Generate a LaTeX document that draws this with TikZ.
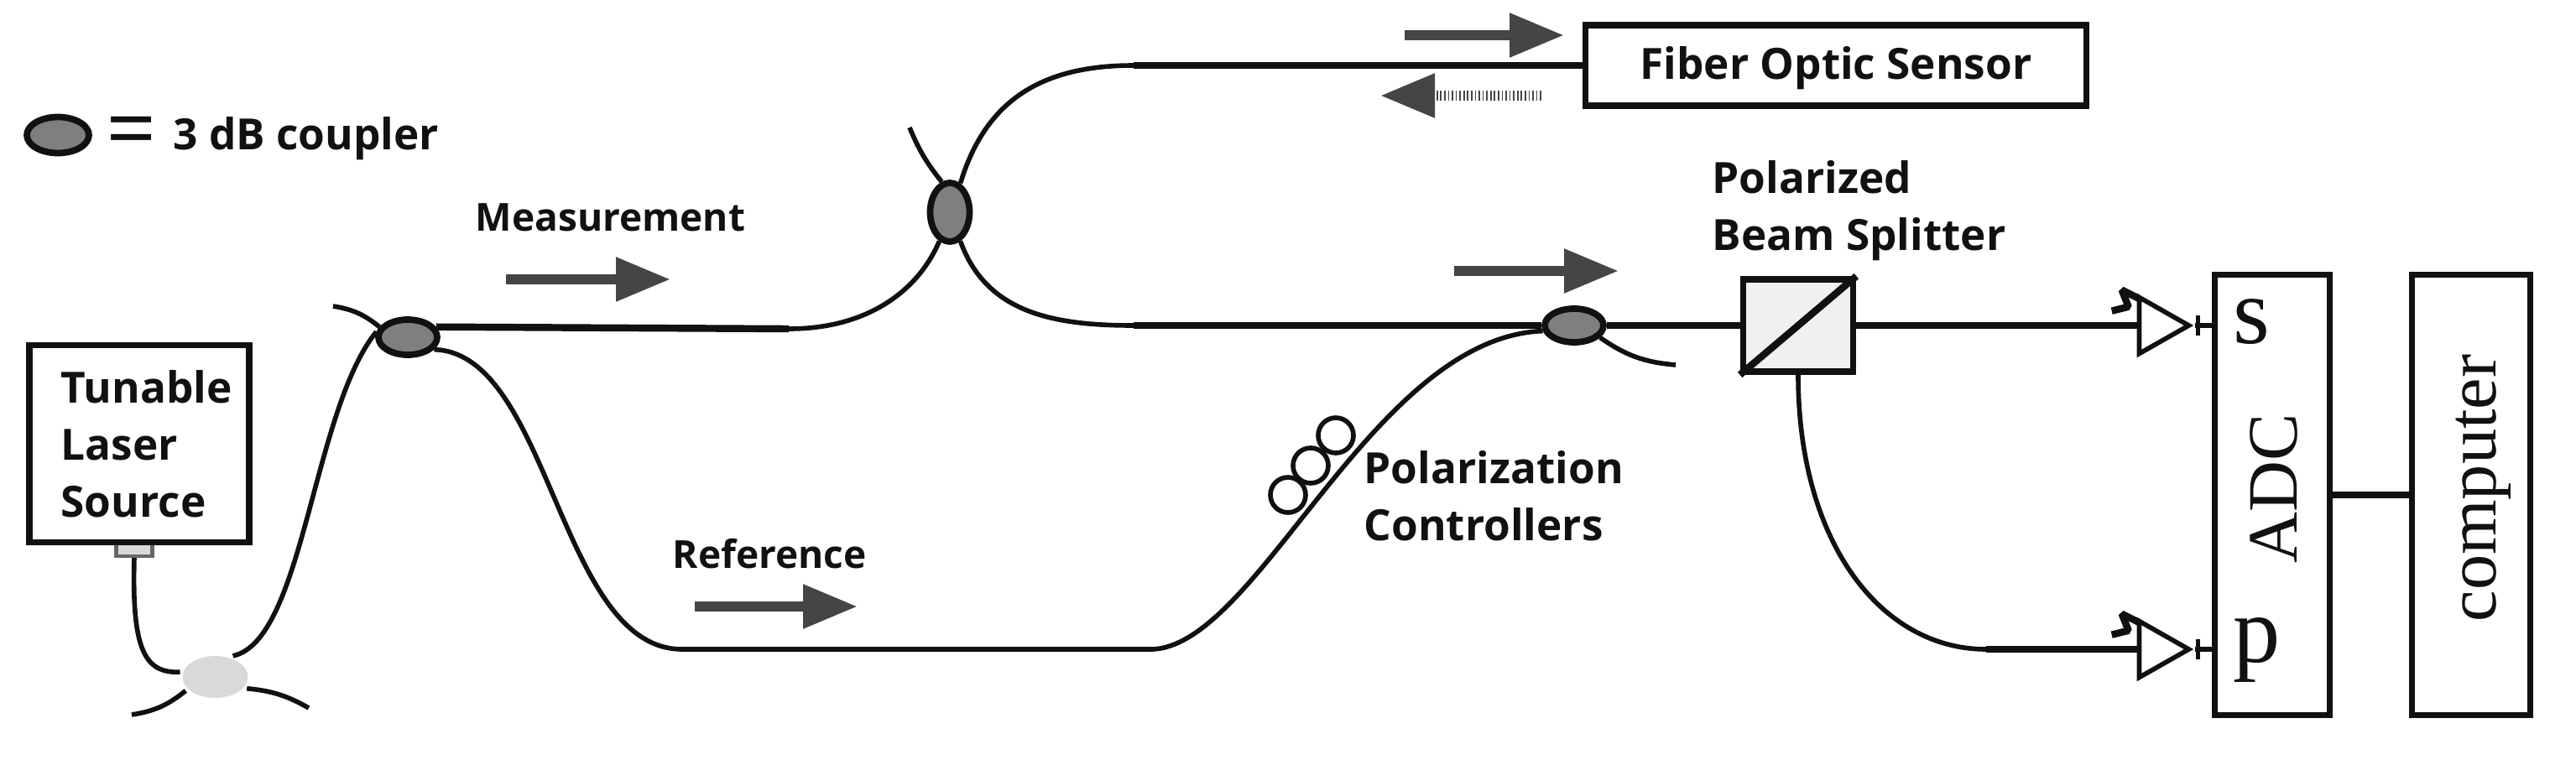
\documentclass[tikz,border=0pt]{standalone}
\usepackage{fontspec}
\setmainfont{Open Sans}
\newfontfamily\seriffont{Liberation Serif}
\usetikzlibrary{arrows.meta,positioning,shapes.geometric}
\definecolor{fibgray}{HTML}{7F7F7F}
\definecolor{fibdark}{HTML}{111111}
\definecolor{flowgray}{HTML}{454545}
\tikzset{
  lbl/.style={font=\fontsize{14.6}{19.4}\selectfont\bfseries,align=left,inner sep=0pt,text=fibdark},
  lblsmall/.style={lbl,font=\fontsize{13.1}{19.4}\selectfont\bfseries},
  box/.style={draw=fibdark,line width=2.2pt,fill=white,inner sep=0pt},
  slab/.style={box,minimum width=1.37cm,minimum height=5.25cm},
  sertxt/.style={font=\seriffont\fontsize{24}{24}\selectfont,inner sep=0pt,text=fibdark},
  chan/.style={font=\seriffont\fontsize{32}{32}\selectfont,inner sep=0pt,text=fibdark},
  coupler/.style={ellipse,draw=fibdark,line width=2.2pt,fill=fibgray,inner sep=0pt,minimum width=.7cm,minimum height=.42cm},
  fiber/.style={draw=fibdark,line width=1.6pt},
  trunk/.style={draw=fibdark,line width=2.4pt},
  flow/.style={-{Triangle[length=6.5mm,width=5mm]},draw=flowgray,line width=3.4pt},
  amp/.style={isosceles triangle,isosceles triangle stretches,draw=fibdark,line width=1.6pt,fill=white,inner sep=0pt,minimum width=.67cm,minimum height=.59cm},
  paddle/.style={circle,draw=fibdark,line width=1.6pt,fill=white,inner sep=0pt,minimum size=.42cm},
}
\begin{document}
\begin{tikzpicture}
  \useasboundingbox (0,0) rectangle (30.7,9.05);
  % boxes
  \node[box,draw=black!60,line width=1.2pt,fill=black!15,minimum width=.43cm,minimum height=.16cm] (port) at (1.6,2.5) {};
  \node[box,minimum width=2.62cm,minimum height=2.35cm] (laser) at (1.66,3.76) {};
  \node[lbl,anchor=west] (lasertxt) at (.72,3.76) {Tunable\\Laser\\Source};
  \node[box,minimum width=5.97cm,minimum height=.96cm] (sensor) at (21.88,8.27) {};
  \node[lbl] (sensortxt) at (21.88,8.24) {Fiber Optic Sensor};
  \node[box,fill=black!6,minimum width=1.31cm,minimum height=1.1cm] (pbs) at (21.43,5.17) {};
  \node[slab] (adc) at (27.08,3.15) {};
  \node[slab,minimum width=1.41cm] (comp) at (29.45,3.15) {};
  % couplers
  \node[coupler,draw=none,fill=black!15,minimum width=.78cm,minimum height=.5cm] (cpl0) at (2.565,.98) {};
  \node[coupler] (cpla) at (4.86,5.03) {};
  \node[coupler,minimum width=.47cm,minimum height=.7cm] (cplb) at (11.32,6.52) {};
  \node[coupler,minimum height=.4cm] (cplc) at (18.76,5.17) {};
  \node[coupler,minimum width=.74cm,minimum height=.43cm] (legend) at (.69,7.44) {};
  % detectors
  \node[amp] (amps) at (25.69,5.17) {};
  \node[amp] (ampp) at (25.69,1.31) {};
  % free fiber ends and bends
  \coordinate (enda) at (3.97,5.40);
  \coordinate (endb) at (10.84,7.53);
  \coordinate (endc) at (19.97,4.70);
  \coordinate (endd) at (1.57,.53);
  \coordinate (ende) at (3.68,.61);
  \coordinate (bendm) at (9.40,5.13);
  \coordinate (bends) at (13.51,8.27);
  \coordinate (bendc) at (13.51,5.17);
  \coordinate (bendp) at (23.67,1.31);
  % fibers
  \draw[fiber] (port.south) .. controls (1.57,1.31) and (1.72,1.02) .. (cpl0.172);
  \draw[fiber] (cpl0.50) .. controls (3.62,1.41) and (3.72,4.15) .. (cpla.170);
  \draw[fiber] (endd) to[bend right=15] (cpl0.205);
  \draw[fiber] (ende) to[bend right=12] (cpl0.-20);
  \draw[fiber] (enda) to[bend left=15] (cpla.160);
  \draw[fiber] (endb) to[bend right=8] (cplb.105);
  \draw[fiber] (endc) to[bend left=15] (cplc.-25);
  \draw[trunk] (cpla.20) -- (bendm);
  \draw[fiber] (bendm) .. controls (10.38,5.13) and (10.96,5.62) .. (cplb.-110);
  \draw[fiber] (cplb.70) .. controls (11.75,7.87) and (12.43,8.27) .. (bends);
  \draw[trunk] (bends) -- (sensor.west);
  \draw[fiber] (cplb.-70) .. controls (11.75,5.33) and (12.53,5.17) .. (bendc);
  \draw[trunk] (bendc) -- (cplc.west);
  \draw[fiber] (cpla.-25) .. controls (6.56,4.84) and (6.66,1.31) .. (8.13,1.31) -- (13.71,1.31)
    .. controls (14.98,1.31) and (16.35,5.03) .. (cplc.190);
  \draw[trunk] (cplc.east) -- (pbs.west);
  \draw[trunk] (pbs.east) -- (amps.west);
  \draw[fiber] (pbs.south) .. controls (21.43,2.58) and (22.42,1.31) .. (bendp);
  \draw[trunk] (bendp) -- (ampp.west);
  \draw[trunk] (pbs.south west) -- (pbs.north east);
  \draw[trunk] (adc.east |- comp.center) -- (comp.west);
  % detector outputs and light marks
  \foreach \det in {amps,ampp}{
    \draw[fiber] (\det.east) -- (\det.east -| adc.west);
    \draw[fiber] ([xshift=-.16cm,yshift=.12cm]\det.east -| adc.west) -- ([xshift=-.16cm,yshift=-.12cm]\det.east -| adc.west);
    \draw[trunk,line join=bevel] ([shift={(.02,.1)}]\det.north west) -- ++(-.2,.1) -- ++(.08,-.2) -- ++(-.2,-.05);
  }
  % paddles
  \node[paddle] (pada) at (15.92,3.86) {};
  \node[paddle] (padb) at (15.62,3.50) {};
  \node[paddle] (padc) at (15.35,3.15) {};
  % direction arrows
  \coordinate (senseout) at (16.74,8.63);
  \coordinate (senseback) at (18.37,7.91);
  \coordinate (combine) at (17.33,5.82);
  \coordinate (measure) at (6.03,5.72);
  \coordinate (refer) at (8.28,1.82);
  \draw[flow] (senseout) -- ++(1.9,0);
  \draw[flow,dash pattern=on .5pt off .8pt] (senseback) -- ++(-1.92,0);
  \draw[flow] (combine) -- ++(1.96,0);
  \draw[flow] (measure) -- ++(1.96,0);
  \draw[flow] (refer) -- ++(1.94,0);
  % labels
  \node[lbl,font=\fontsize{30}{30}\selectfont,inner sep=0pt] (eqlbl) at (1.57,7.40) {=};
  \node[lbl,anchor=west] (legendtxt) at (2.06,7.40) {3 dB coupler};
  \node[lblsmall,anchor=west] (measlbl) at (5.66,6.46) {Measurement};
  \node[lblsmall,anchor=west] (reflbl) at (8.01,2.45) {Reference};
  \node[lbl,anchor=west] (pclbl) at (16.25,3.14) {Polarization\\Controllers};
  \node[lbl,anchor=west] (pbslbl) at (20.40,6.54) {Polarized\\Beam Splitter};
  \node[chan] (slbl) at (26.83,5.21) {s};
  \node[chan] (plbl) at (26.9,1.3) {p};
  \node[sertxt,rotate=90] (adclbl) at (27.1,3.23) {ADC};
  \node[sertxt,rotate=90] (complbl) at (29.6,3.23) {computer};
\end{tikzpicture}
\end{document}
